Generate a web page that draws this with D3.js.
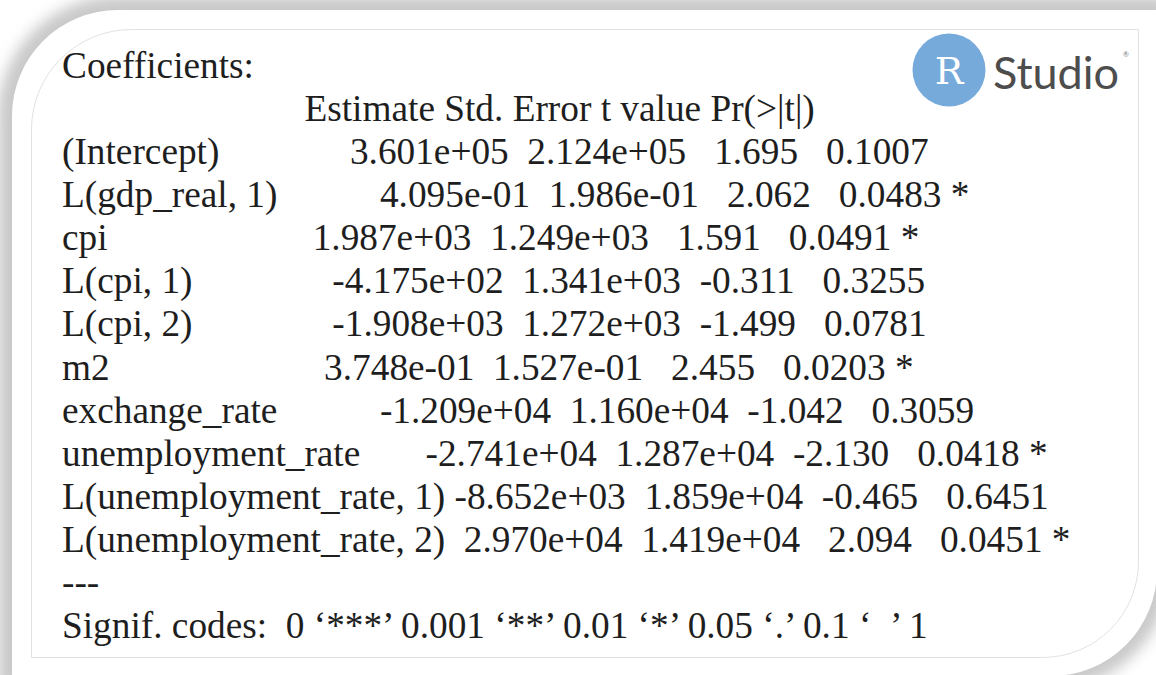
<!DOCTYPE html>
<html>
<head>
<meta charset="utf-8">
<script src="https://cdn.jsdelivr.net/npm/d3@7"></script>
<style>
  html, body { margin: 0; padding: 0; background: #fff; overflow: hidden; }
  svg { display: block; }
  .out { font-family: "Liberation Serif", "Times New Roman", serif; font-size: 37.3px; fill: #1e1e1e; white-space: pre; }
</style>
</head>
<body>
<div id="chart"></div>
<script>
/* Datos del summary() de R */
const terms = ["(Intercept)", "L(gdp_real, 1)", "cpi", "L(cpi, 1)", "L(cpi, 2)", "m2",
  "exchange_rate", "unemployment_rate", "L(unemployment_rate, 1)", "L(unemployment_rate, 2)"];
const estimates = ["3.601e+05", "4.095e-01", "1.987e+03", "-4.175e+02", "-1.908e+03",
  "3.748e-01", "-1.209e+04", "-2.741e+04", "-8.652e+03", "2.970e+04"];
const stdErrors = ["2.124e+05", "1.986e-01", "1.249e+03", "1.341e+03", "1.272e+03",
  "1.527e-01", "1.160e+04", "1.287e+04", "1.859e+04", "1.419e+04"];
const tValues = ["1.695", "2.062", "1.591", "-0.311", "-1.499", "2.455", "-1.042", "-2.130", "-0.465", "2.094"];
const pValues = ["0.1007", "0.0483", "0.0491", "0.3255", "0.0781", "0.0203", "0.3059", "0.0418", "0.6451", "0.0451"];
const stars = ["", "*", "*", "", "", "*", "", "*", "", "*"];
const columnNames = ["Estimate", "Std. Error", "t value", "Pr(>|t|)"];
const signifCodes = "0 \u2018***\u2019 0.001 \u2018**\u2019 0.01 \u2018*\u2019 0.05 \u2018.\u2019 0.1 \u2018\u2002\u2019 1";

const w = 1156;
const h = 675;

const svg = d3.select('#chart')
  .append('svg')
  .attr('width', w)
  .attr('height', h);

/* Sombra y tarjeta */
const defs = svg.append('defs');
defs.append('filter')
  .attr('id', 'blur')
  .attr('x', '-10%').attr('y', '-10%').attr('width', '120%').attr('height', '120%')
  .append('feGaussianBlur')
  .attr('stdDeviation', 7);

const card = (x0, y0, x1, y1, r1, r2) => {
  const p = d3.path();
  p.moveTo(x0, y0 + r1);
  p.arcTo(x0, y0, x0 + r1, y0, r1);
  p.lineTo(x1, y0);
  p.lineTo(x1, y1 - r2);
  p.arcTo(x1, y1, x1 - r2, y1, r2);
  p.lineTo(x0, y1);
  p.closePath();
  return p.toString();
};

svg.append('rect').attr('width', w).attr('height', h).attr('fill', '#fff');

svg.append('path')
  .attr('d', card(-2, -4, w + 14, h + 14, 120, 120))
  .attr('fill', '#c9c9c9')
  .attr('filter', 'url(#blur)');

svg.append('path')
  .attr('d', card(12, 10, w + 1, h + 1, 106, 106))
  .attr('fill', '#fff');

svg.append('path')
  .attr('d', card(31.5, 29.5, 1138.5, 657.5, 100, 96))
  .attr('fill', 'none')
  .attr('stroke', '#e2e2e2')
  .attr('stroke-width', 1);

/* Formateo estilo printCoefmat */
const labelW = d3.max(terms, (d) => d.length);
const colW = [
  d3.max(estimates.concat(columnNames[0]), (d) => d.length),
  d3.max(stdErrors.concat(columnNames[1]), (d) => d.length),
  d3.max(tValues.concat(columnNames[2]), (d) => d.length),
  d3.max(pValues.concat(columnNames[3]), (d) => d.length)
];

const header = ''.padEnd(labelW) + columnNames.map((c, i) => ' ' + c.padStart(colW[i])).join('');
const rows = terms.map((t, i) =>
  t.padEnd(labelW) +
  [estimates[i], stdErrors[i], tValues[i], pValues[i]].map((v, j) => ' ' + v.padStart(colW[j])).join('') +
  ' ' + stars[i]);

const lines = ['Coefficients:', header].concat(rows, ['---', 'Signif. codes:  ' + signifCodes]);

/* Escala vertical de filas */
const yScale = d3.scaleLinear()
  .domain([0, lines.length - 1])
  .range([78, 638]);

svg.append('g')
  .selectAll('text')
  .data(lines)
  .enter()
  .append('text')
  .attr('class', 'out')
  .attr('xml:space', 'preserve')
  .attr('x', 62)
  .attr('y', (d, i) => yScale(i))
  .text((d) => d);

/* Logo RStudio */
const logo = svg.append('g').attr('transform', 'translate(949,70)');
logo.append('circle').attr('r', 36.5).attr('fill', '#75aadb');
logo.append('text')
  .attr('x', 0).attr('y', 14)
  .attr('text-anchor', 'middle')
  .attr('font-family', '"DejaVu Serif", serif')
  .attr('font-size', 38)
  .attr('fill', '#fff')
  .text('R');
logo.append('text')
  .attr('x', 44).attr('y', 19)
  .attr('font-family', 'Lato, "Open Sans", sans-serif')
  .attr('font-size', 45)
  .attr('fill', '#4d4d4d')
  .text('Studio');
logo.append('text')
  .attr('x', 174).attr('y', -13)
  .attr('font-family', 'Lato, sans-serif')
  .attr('font-size', 7)
  .attr('fill', '#777')
  .text('\u00ae');
</script>
</body>
</html>
